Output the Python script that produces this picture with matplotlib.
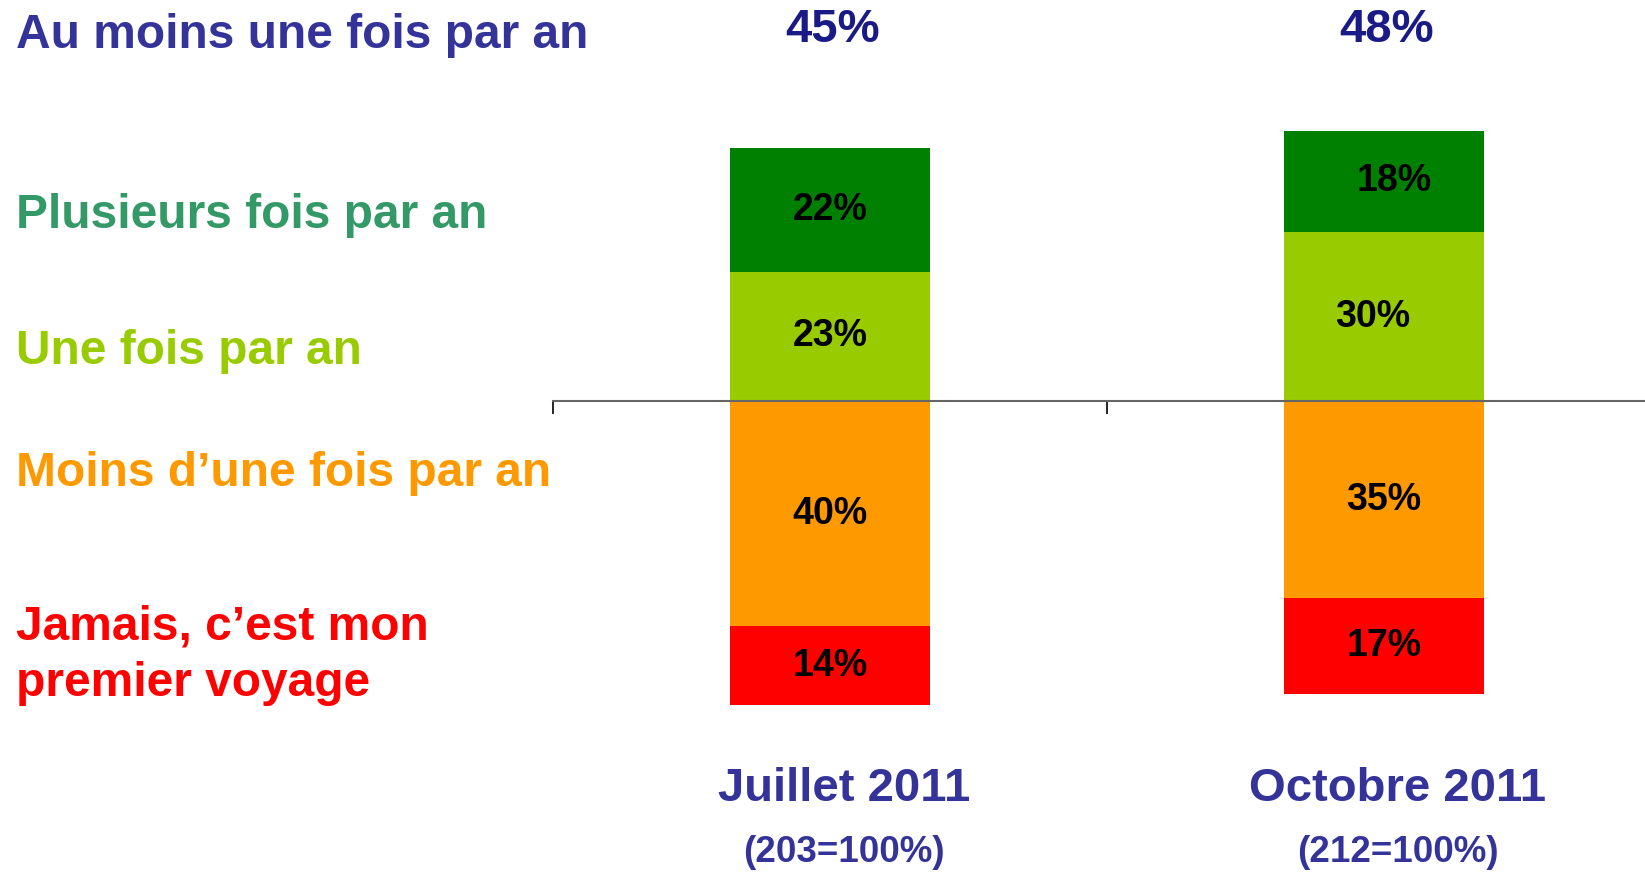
import numpy as np
import matplotlib
matplotlib.use("Agg")
import matplotlib.pyplot as plt

# data
periodes = ["Juillet 2011", "Octobre 2011"]
bases = ["(203=100%)", "(212=100%)"]
plusieurs_fois = [22, 18]
une_fois = [23, 30]
moins_une_fois = [40, 35]
jamais = [14, 17]
au_moins_une_fois = [45, 48]

legende = [
    ("Au moins une fois par an", "#333399"),
    ("Plusieurs fois par an", "#339966"),
    ("Une fois par an", "#99cc00"),
    ("Moins d\u2019une fois par an", "#ff9900"),
    ("Jamais, c\u2019est mon\npremier voyage", "#ff0000"),
]

W, H = 1645, 877
FONT = ["Liberation Sans", "DejaVu Sans"]


def yfrac(ypix):
    return 1 - ypix / H


fig = plt.figure(figsize=(W / 100, H / 100), dpi=100)
ax = fig.add_axes([553 / W, 0, 1108 / W, 1])

x = np.arange(len(periodes))
width = 0.36
une = np.array(une_fois)
plus = np.array(plusieurs_fois)
moins = np.array(moins_une_fois)
jam = np.array(jamais)

ax.bar(x, une, width, bottom=0, color="#99cc00", zorder=2)
ax.bar(x, plus, width, bottom=une, color="#008000", zorder=2)
ax.bar(x, -moins, width, bottom=0, color="#ff9900", zorder=2)
ax.bar(x, -jam, width, bottom=-moins, color="#ff0000", zorder=2)

# segment labels (small nudges copied from the original layout)
nudge = {(1, "plus"): 0.018, (1, "une"): -0.02}
for i in range(len(x)):
    segs = [
        ("plus", une[i] + plus[i] / 2, plus[i]),
        ("une", une[i] / 2, une[i]),
        ("moins", -moins[i] / 2, moins[i]),
        ("jam", -moins[i] - jam[i] / 2, jam[i]),
    ]
    for key, yc, v in segs:
        ax.text(x[i] + nudge.get((i, key), 0), yc, f"{v}%", ha="center", va="center",
                fontsize=27, fontweight="bold", color="black", family=FONT, zorder=3)

# totals on top
for i in range(len(x)):
    ax.text(x[i] + 0.005, yfrac(30), f"{au_moins_une_fois[i]}%",
            transform=ax.get_xaxis_transform(), ha="center", va="center",
            fontsize=34, fontweight="bold", color="#1a1a86", family=FONT)

# period labels under the bars
for i in range(len(x)):
    ax.text(x[i] + 0.025, yfrac(789), periodes[i], transform=ax.get_xaxis_transform(),
            ha="center", va="center", fontsize=34, fontweight="bold",
            color="#333399", family=FONT)
    ax.text(x[i] + 0.025, yfrac(853), bases[i], transform=ax.get_xaxis_transform(),
            ha="center", va="center", fontsize=26.5, fontweight="bold",
            color="#333399", family=FONT)

ax.set_xlim(-0.5, 1.5)
ax.set_ylim(-(H - 401) / 5.63, 401 / 5.63)
for s in ["top", "right", "left"]:
    ax.spines[s].set_visible(False)
ax.spines["bottom"].set_position(("data", 0))
ax.spines["bottom"].set_color("#666666")
ax.spines["bottom"].set_linewidth(1.5)
ax.spines["bottom"].set_zorder(4)
ax.set_xticks([-0.5, 0.5, 1.5])
ax.tick_params(axis="x", direction="out", length=9, width=1.2, color="black", labelbottom=False)
ax.set_yticks([])

# left-hand category legend
label_y = [35, 216, 352, 474, 655]
for (txt, col), yp in zip(legende, label_y):
    fig.text(16 / W, yfrac(yp), txt, ha="left", va="center", fontsize=34.5,
             fontweight="bold", color=col, family=FONT, linespacing=1.32)

fig.savefig("out.png", dpi=100)
